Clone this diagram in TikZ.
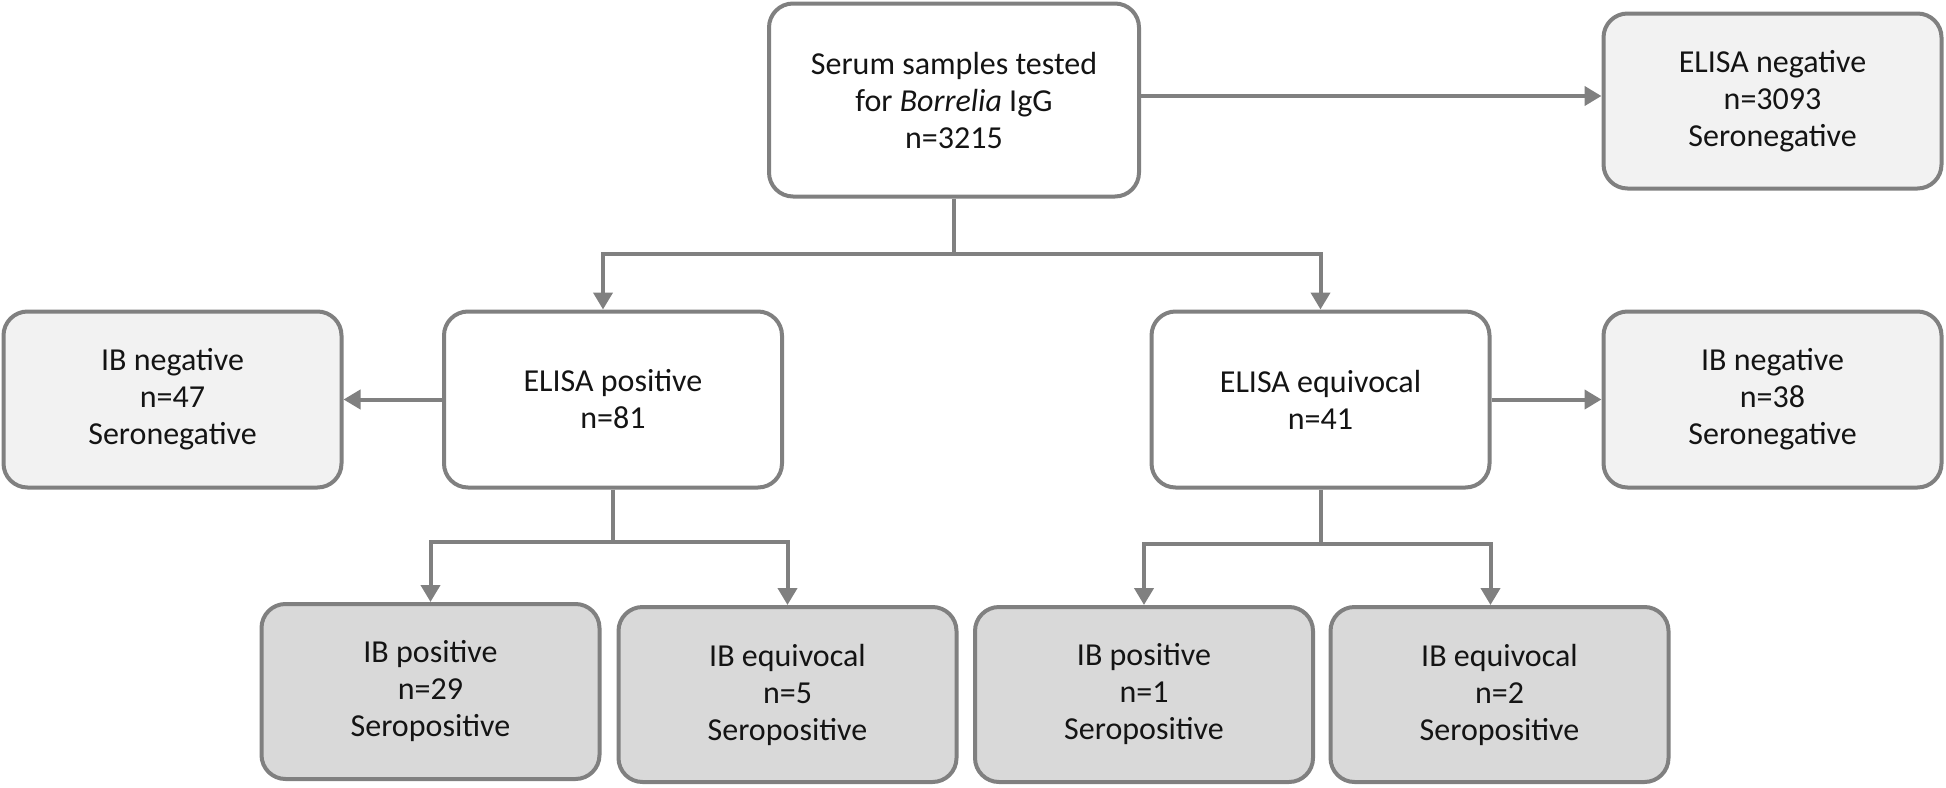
\documentclass[tikz,border=0pt]{standalone}
\usepackage{fontspec}
\setmainfont{Carlito}
\usetikzlibrary{arrows.meta}
\definecolor{edge}{RGB}{128,128,128}
\definecolor{fillA}{RGB}{242,242,242}
\definecolor{fillB}{RGB}{217,217,217}
\definecolor{txt}{RGB}{20,20,20}
\tikzset{
  box/.style={draw=edge, line width=4pt, rounded corners=24pt, align=center,
    font=\fontsize{32pt}{37pt}\selectfont, text=txt, inner sep=0pt,
    minimum width=338pt, minimum height=176pt},
  whitebox/.style={box, fill=white},
  negbox/.style={box, fill=fillA},
  posbox/.style={box, fill=fillB},
  arr/.style={draw=edge, line width=4pt, -{Triangle[length=17pt,width=19pt]}},
}
\begin{document}
\begin{tikzpicture}[x=1pt,y=-1pt]
\useasboundingbox (0,0) rectangle (1946,787);
\node[whitebox, minimum width=370pt, minimum height=193pt] (top) at (954,100)
  {Serum samples tested\\for \textit{Borrelia} IgG\\n=3215};
\node[negbox, minimum height=175pt] (elneg) at (1772.5,101) {ELISA negative\\n=3093\\Seronegative};
\node[negbox] (ibneg1) at (172.5,399.5) {IB negative\\n=47\\Seronegative};
\node[whitebox] (elpos) at (613,399.5) {ELISA positive\\n=81};
\node[whitebox] (eleq) at (1320.5,399.5) {ELISA equivocal\\n=41};
\node[negbox] (ibneg2) at (1772.5,399.5) {IB negative\\n=38\\Seronegative};
\node[posbox, minimum height=175pt] (b1) at (430.5,691.5) {IB positive\\n=29\\Seropositive};
\node[posbox, minimum height=175pt] (b2) at (787.5,694.5) {IB equivocal\\n=5\\Seropositive};
\node[posbox, minimum height=175pt] (b3) at (1144,694.5) {IB positive\\n=1\\Seropositive};
\node[posbox, minimum height=175pt] (b4) at (1499.5,694.5) {IB equivocal\\n=2\\Seropositive};

\draw[arr] ([yshift=4pt]top.east) -- ([yshift=4pt]top.east -| elneg.west);
\draw[draw=edge, line width=4pt] (top.south) -- ++(0,55) coordinate (j1);
\draw[arr] (j1) -| ([xshift=-10pt]elpos.north);
\draw[arr] (j1) -| (eleq.north);
\draw[arr] (elpos.west) -- (ibneg1.east);
\draw[arr] (eleq.east) -- (ibneg2.west);
\draw[draw=edge, line width=4pt] (elpos.south) -- ++(0,52) coordinate (j2);
\draw[arr] (j2) -| (b1.north);
\draw[arr] (j2) -| (b2.north);
\draw[draw=edge, line width=4pt] (eleq.south) -- ++(0,54) coordinate (j3);
\draw[arr] (j3) -| (b3.north);
\draw[arr] (j3) -| ([xshift=-9pt]b4.north);
\end{tikzpicture}
\end{document}
